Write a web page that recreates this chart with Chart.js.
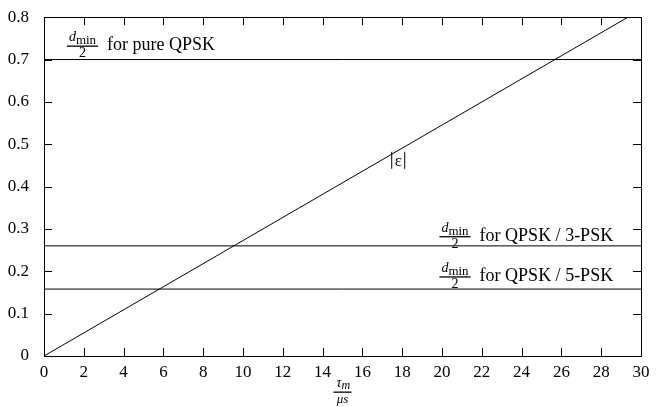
<!DOCTYPE html>
<html>
<head>
<meta charset="utf-8">
<script src="https://cdn.jsdelivr.net/npm/chart.js@4.4.1/dist/chart.umd.min.js"></script>
<style>
  html, body { margin: 0; padding: 0; background: #fff; }
  #wrap { width: 662px; height: 407px; }
</style>
</head>
<body>
<div id="wrap"><canvas id="errChart"></canvas></div>
<script>
// phase error line |eps| against tau_m / us
const errX = [0, 30];
const errY = [0, 0.818];

// d_min / 2 levels
const levelNames = ["pure QPSK", "QPSK / 3-PSK", "QPSK / 5-PSK"];
const levelValues = [0.7, 0.26, 0.158];

// where the labels sit (data coords)
const levelLabelX = [1.15, 28.6, 28.6];
const levelLabelY = [0.732, 0.282, 0.187];
const levelAlign = ["left", "right", "right"];
const epsLabel = { x: 17.8, y: 0.462 };

const xMin = 0, xMax = 30, xStep = 2;
const yMin = 0, yMax = 0.8, yStep = 0.1;

const serif = "'Liberation Serif', 'Times New Roman', serif";

let datasets = [{
  data: errX.map((x, i) => ({ x: x, y: errY[i] })),
  borderColor: "#000",
  borderWidth: 1,
  pointRadius: 0,
  showLine: true
}];
levelValues.forEach(v => {
  datasets.push({
    data: [{ x: xMin, y: v }, { x: xMax, y: v }],
    borderColor: "#000",
    borderWidth: 1,
    pointRadius: 0,
    showLine: true
  });
});

// d_min over 2, returns width
function fracWidth(ctx) {
  ctx.font = "italic 14px " + serif;
  let w = ctx.measureText("d").width;
  ctx.font = "13px " + serif;
  w += ctx.measureText("min").width;
  return w + 4;
}
function drawDmin(ctx, x, barY) {
  let w = fracWidth(ctx);
  ctx.textAlign = "left";
  ctx.textBaseline = "alphabetic";
  ctx.font = "italic 14px " + serif;
  ctx.fillText("d", x + 2, barY - 5);
  let dw = ctx.measureText("d").width;
  ctx.font = "13px " + serif;
  ctx.fillText("min", x + 2 + dw, barY - 2);
  ctx.fillRect(x, barY - 0.5, w, 1.3);
  ctx.font = "14px " + serif;
  ctx.textAlign = "center";
  ctx.fillText("2", x + w / 2, barY + 11);
  return w;
}

const decor = {
  id: "decor",
  afterDatasetsDraw(chart) {
    const ctx = chart.ctx;
    const a = chart.chartArea;
    const xs = chart.scales.x, ys = chart.scales.y;
    ctx.save();
    ctx.fillStyle = "#000";
    ctx.strokeStyle = "#000";
    ctx.lineWidth = 1;

    // frame
    ctx.strokeRect(Math.round(a.left) + 0.5, Math.round(a.top) + 0.5,
      Math.round(a.right - a.left), Math.round(a.bottom - a.top));

    // inward ticks on all four sides
    ctx.beginPath();
    xs.ticks.forEach(t => {
      const px = Math.round(xs.getPixelForValue(t.value)) + 0.5;
      ctx.moveTo(px, a.bottom); ctx.lineTo(px, a.bottom - 8);
      ctx.moveTo(px, a.top); ctx.lineTo(px, a.top + 8);
    });
    ys.ticks.forEach(t => {
      const py = Math.round(ys.getPixelForValue(t.value)) + 0.5;
      ctx.moveTo(a.left, py); ctx.lineTo(a.left + 8, py);
      ctx.moveTo(a.right, py); ctx.lineTo(a.right - 8, py);
    });
    ctx.stroke();

    // level labels
    levelNames.forEach((name, i) => {
      const barY = ys.getPixelForValue(levelLabelY[i]);
      const ax = xs.getPixelForValue(levelLabelX[i]);
      ctx.font = "18px " + serif;
      const txt = "for " + name;
      const tw = ctx.measureText(txt).width;
      const fw = fracWidth(ctx);
      const gap = 9;
      const left = levelAlign[i] === "left" ? ax : ax - tw - gap - fw;
      drawDmin(ctx, left, barY);
      ctx.font = "18px " + serif;
      ctx.textAlign = "left";
      ctx.textBaseline = "alphabetic";
      ctx.fillText(txt, left + fw + gap, barY + 4);
    });

    // |eps|
    const ex = xs.getPixelForValue(epsLabel.x);
    const ey = ys.getPixelForValue(epsLabel.y);
    ctx.font = "17px " + serif;
    ctx.textAlign = "center";
    ctx.textBaseline = "middle";
    ctx.fillText("\u03B5", ex, ey + 1);
    ctx.beginPath();
    ctx.moveTo(ex - 6.5, ey - 8.5); ctx.lineTo(ex - 6.5, ey + 8.5);
    ctx.moveTo(ex + 6.5, ey - 8.5); ctx.lineTo(ex + 6.5, ey + 8.5);
    ctx.stroke();

    // x axis title tau_m / us
    const cx = (a.left + a.right) / 2;
    ctx.textBaseline = "alphabetic";
    ctx.font = "italic 14px " + serif;
    ctx.textAlign = "right";
    ctx.fillText("\u03C4", cx - 1, 387);
    ctx.textAlign = "left";
    ctx.font = "italic 12px " + serif;
    ctx.fillText("m", cx - 1, 389);
    ctx.fillRect(cx - 9, 391.5, 18, 1.3);
    ctx.font = "italic 13px " + serif;
    ctx.textAlign = "center";
    ctx.fillText("\u03BCs", cx, 403);
    ctx.restore();
  }
};

new Chart(document.getElementById("errChart"), {
  type: "scatter",
  data: { datasets: datasets },
  options: {
    responsive: true,
    maintainAspectRatio: false,
    animation: false,
    layout: { padding: { top: 13, right: 21, left: 0, bottom: 0 } },
    plugins: { legend: { display: false }, tooltip: { enabled: false } },
    scales: {
      x: {
        type: "linear",
        min: xMin, max: xMax,
        grid: { display: false },
        border: { display: false },
        ticks: {
          stepSize: xStep,
          color: "#000",
          padding: -2,
          maxRotation: 0,
          autoSkip: false,
          font: { family: serif, size: 17 }
        },
        afterFit(scale) { scale.height = 51; }
      },
      y: {
        type: "linear",
        min: yMin, max: yMax,
        grid: { display: false },
        border: { display: false },
        ticks: {
          stepSize: yStep,
          color: "#000",
          padding: 7,
          font: { family: serif, size: 17 },
          callback: v => (Math.abs(v) < 1e-9 ? "0" : v.toFixed(1))
        },
        afterFit(scale) { scale.width = 44; }
      }
    }
  },
  plugins: [decor]
});
</script>
</body>
</html>
